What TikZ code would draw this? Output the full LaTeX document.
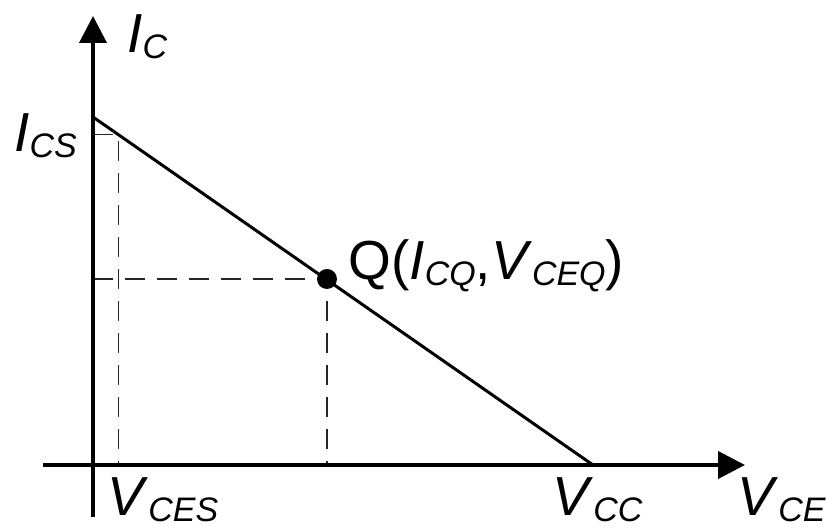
\documentclass[tikz,border=0pt]{standalone}
\usepackage{fontspec}
\setmainfont{Liberation Sans}
\usetikzlibrary{arrows.meta}
\newcommand{\lowsub}[2]{\textit{#1}\raisebox{-3pt}{\fontsize{17}{18}\selectfont\textit{#2}}}
\tikzset{
  lc/axis/.style={line width=2pt, -{Triangle[length=13.5pt,width=13.5pt]}},
  lc/load/.style={line width=1.5pt},
  lc/guide/.style={line width=0.65pt, draw=black!85, dash pattern=on 10pt off 6pt},
  lc/lbl/.style={inner sep=0pt, font=\fontsize{27.5}{33}\selectfont}
}
\begin{document}
\begin{tikzpicture}[x=0.5pt, y=-0.5pt]
  \useasboundingbox (0,0) rectangle (827,528);
  \coordinate (xl)  at (43,465);
  \coordinate (xr)  at (745,465);
  \coordinate (yb)  at (93,517);
  \coordinate (yt)  at (93,16);
  \coordinate (ics) at (93,117);
  \coordinate (vcc) at (593,465);
  \coordinate (s)   at (118.5,134.5);
  \coordinate (q)   at (327,279);

  % guide lines
  \draw[lc/guide] (ics |- s) -- (s) -- (s |- xl);
  \draw[lc/guide] (ics |- q) -- (q) -- (q |- xl);

  \draw[lc/axis] (xl) -- (xr);
  \draw[lc/axis] (yb) -- (yt);
  \draw[lc/load] (ics) -- (vcc);
  \fill (q) circle (5pt);

  \node[lc/lbl, anchor=base west] (lic)   at (127,53)  {\lowsub{I}{C}};
  \node[lc/lbl, anchor=base west] (lics)  at (14,152)  {\lowsub{I}{CS}};
  \node[lc/lbl, anchor=base west] (lvces) at (107,516) {\lowsub{V}{CES}};
  \node[lc/lbl, anchor=base west] (lvcc)  at (552,516) {\lowsub{V}{CC}};
  \node[lc/lbl, anchor=base west] (lvce)  at (737,516) {\lowsub{V}{CE}};
  \node[lc/lbl, anchor=base west] (lq)    at (348,280) {Q(\lowsub{I}{CQ},\lowsub{V}{CEQ})};
\end{tikzpicture}
\end{document}
